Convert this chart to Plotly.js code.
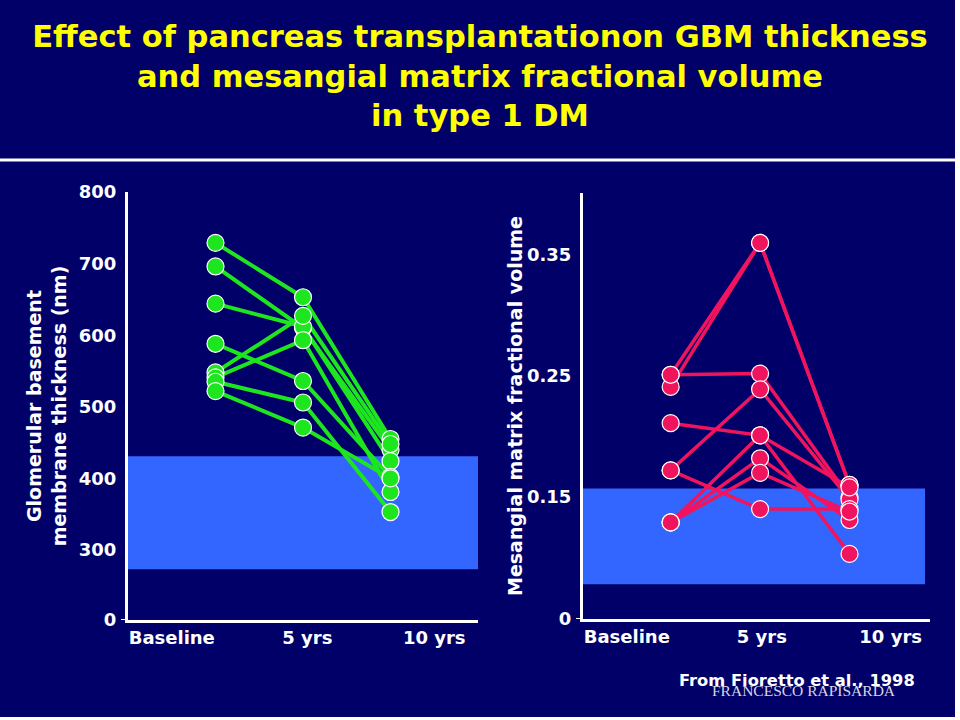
<!DOCTYPE html>
<html><head><meta charset="utf-8">
<script src="https://cdn.plot.ly/plotly-3.0.1.min.js"></script>
<style>html,body{margin:0;padding:0;background:#000068;overflow:hidden}#chart{width:960px;height:720px}</style>
</head><body><div id="chart"></div>
<script>
// ---- data ----
const timepoints = [1, 2, 3];
const xTickLabels = ['Baseline', '5 yrs', '10 yrs'];
const leftXTickPos = [0.5, 2.05, 3.5];
const rightXTickPos = [0.51, 2.02, 3.46];

// GBM thickness (nm), one entry per patient
const gbmBaseline = [729, 696, 644, 588, 548, 541, 535, 522];
const gbm5yr      = [653, 610, 612, 536, 627, 593, 506, 471];
const gbm10yr     = [455, 440, 424, 402, 448, 381, 353, 400];
const gbmNormalRange = [273, 431];
const gbmTickVals = [202.2, 300, 400, 500, 600, 700, 800];
const gbmTickText = ['0', '300', '400', '500', '600', '700', '800'];

// Mesangial matrix fractional volume, one entry per patient
const mmvBaseline = [0.251, 0.241, 0.251, 0.211, 0.172, 0.172, 0.129, 0.129, 0.129];
const mmv5yr      = [0.360, 0.360, 0.252, 0.201, 0.239, 0.140, 0.201, 0.182, 0.170];
const mmv10yr     = [0.160, 0.160, 0.150, 0.103, 0.148, 0.140, 0.158, 0.131, 0.138];
const mmvNormalRange = [0.078, 0.157];
const mmvTickVals = [0.0492, 0.15, 0.25, 0.35];
const mmvTickText = ['0', '0.15', '0.25', '0.35'];

// ---- styles ----
const NAVY = '#000068', GREEN = '#1EE61E', PINK = '#F0145F', BAND = '#3366FF';
const FONT = 'DejaVu Sans, Liberation Sans, Arial, sans-serif';

function buildTraces(base, five, ten, xa, ya, color, lw, ms) {
  const traces = [];
  const mx = [], my = [];
  for (let i = 0; i < base.length; i++) {
    const ys = [base[i], five[i], ten[i]];
    traces.push({type: 'scatter', mode: 'lines', x: timepoints, y: ys, xaxis: xa, yaxis: ya,
      line: {color: color, width: lw}, hoverinfo: 'skip', showlegend: false});
    for (let k = 0; k < 3; k++) { mx.push(timepoints[k]); my.push(ys[k]); }
  }
  traces.push({type: 'scatter', mode: 'markers', x: mx, y: my, xaxis: xa, yaxis: ya,
    marker: {color: color, size: ms, line: {color: 'white', width: 1.2}}, hoverinfo: 'skip', showlegend: false});
  return traces;
}

const data = [].concat(
  buildTraces(gbmBaseline, gbm5yr, gbm10yr, 'x', 'y', GREEN, 4, 17),
  buildTraces(mmvBaseline, mmv5yr, mmv10yr, 'x2', 'y2', PINK, 3.5, 17)
);

const tickFont = {family: FONT, size: 18, color: 'white', weight: 'bold'};
const axBase = {showgrid: false, zeroline: false, showline: true, linecolor: 'white', linewidth: 3,
  ticks: '', tickfont: tickFont, fixedrange: true};

const layout = {
  width: 960, height: 720,
  margin: {l: 0, r: 0, t: 0, b: 0},
  paper_bgcolor: NAVY, plot_bgcolor: 'rgba(0,0,0,0)',
  showlegend: false, hovermode: false,
  title: {text: 'Effect of pancreas transplantationon GBM thickness<br>and mesangial matrix fractional volume<br>in type 1 DM',
    x: 0.5, xanchor: 'center', y: 1 - 47/720, yanchor: 'middle',
    font: {family: FONT, size: 30.5, color: '#FFFF00', weight: 'bold'}},
  xaxis: Object.assign({}, axBase, {domain: [128/960, 478/960], range: [0, 4], anchor: 'y',
    tickvals: leftXTickPos, ticktext: xTickLabels, ticklabelstandoff: -1}),
  yaxis: Object.assign({}, axBase, {domain: [1 - 620/720, 1 - 192/720], range: [202.2, 800], anchor: 'x',
    tickvals: gbmTickVals, ticktext: gbmTickText, ticklabelstandoff: 5,
    title: {text: 'Glomerular basement<br>membrane thickness (nm)', standoff: 8,
      font: {family: FONT, size: 19, color: 'white', weight: 'bold'}}}),
  xaxis2: Object.assign({}, axBase, {domain: [583/960, 930/960], range: [0.02, 3.9], anchor: 'y2',
    tickvals: rightXTickPos, ticktext: xTickLabels, ticklabelstandoff: -1}),
  yaxis2: Object.assign({}, axBase, {domain: [1 - 619/720, 1 - 193/720], range: [0.0492, 0.4012], anchor: 'x2',
    tickvals: mmvTickVals, ticktext: mmvTickText, ticklabelstandoff: 5,
    title: {text: 'Mesangial matrix fractional volume', standoff: 0,
      font: {family: FONT, size: 19, color: 'white', weight: 'bold'}}}),
  shapes: [
    {type: 'rect', layer: 'below', xref: 'x domain', yref: 'y', x0: 0, x1: 1,
      y0: gbmNormalRange[0], y1: gbmNormalRange[1], fillcolor: BAND, line: {width: 0}},
    {type: 'rect', layer: 'below', xref: 'x2 domain', yref: 'y2', x0: 0, x1: 0.9856,
      y0: mmvNormalRange[0], y1: mmvNormalRange[1], fillcolor: BAND, line: {width: 0}},
    {type: 'line', xref: 'x domain', yref: 'y', x0: -0.02, x1: 0, y0: gbmTickVals[0], y1: gbmTickVals[0],
      line: {color: 'white', width: 2}},
    {type: 'line', xref: 'x2 domain', yref: 'y2', x0: -0.02, x1: 0, y0: mmvTickVals[0], y1: mmvTickVals[0],
      line: {color: 'white', width: 2}},
    {type: 'line', xref: 'paper', yref: 'paper', x0: 0, x1: 955/960, y0: 1 - 160/720, y1: 1 - 160/720,
      line: {color: 'white', width: 3}},
    {type: 'rect', xref: 'paper', yref: 'paper', x0: 955/960, x1: 1, y0: 0, y1: 1,
      fillcolor: 'white', line: {width: 0}},
    {type: 'rect', xref: 'paper', yref: 'paper', x0: 0, x1: 1, y0: 0, y1: 3/720,
      fillcolor: 'white', line: {width: 0}}
  ],
  annotations: [
    {text: 'From Fioretto et al., 1998', xref: 'paper', yref: 'paper', x: 917/960, y: 1 - 680/720,
      xanchor: 'right', yanchor: 'middle', showarrow: false,
      font: {family: FONT, size: 16.3, color: 'white', weight: 'bold'}},
    {text: 'FRANCESCO RAPISARDA', xref: 'paper', yref: 'paper', x: 804/960, y: 1 - 690/720,
      xanchor: 'center', yanchor: 'middle', showarrow: false,
      font: {family: 'Liberation Serif, Times New Roman, serif', size: 15.5, color: '#D8D8E0'}}
  ]
};

Plotly.newPlot('chart', data, layout, {staticPlot: true, displayModeBar: false});
</script>
</body></html>
